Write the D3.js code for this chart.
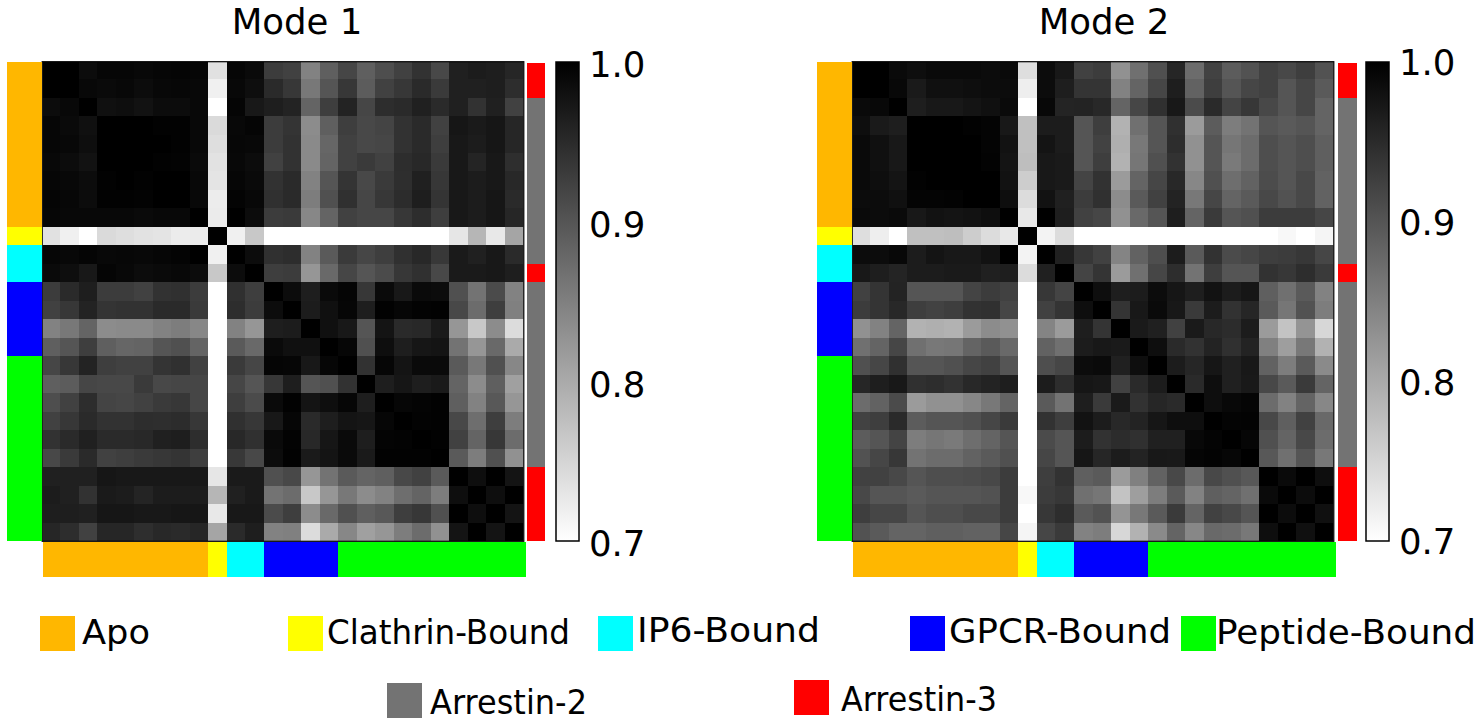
<!DOCTYPE html>
<html><head><meta charset="utf-8">
<style>html,body{margin:0;padding:0;background:#fff}svg{display:block}text{font-family:"DejaVu Sans",sans-serif;fill:#000}</style>
<script src="https://cdn.jsdelivr.net/npm/d3@7"></script></head><body>
<svg id="c" width="1484" height="724"></svg>
<script>
const stateNames=["Apo","Clathrin-Bound","IP6-Bound","GPCR-Bound","Peptide-Bound"];
const stateColors=["#ffb700","#ffff00","#00ffff","#0000ff","#00ff00"];
const stateCounts=[9,1,2,4,10];
const isoNames=["Arrestin-2","Arrestin-3"];
const isoColors=["#737373","#ff0000"];
const isoRuns=[["Arrestin-3",2],["Arrestin-2",9],["Arrestin-3",1],["Arrestin-2",10],["Arrestin-3",4]];
const colorTicks=[0.7,0.8,0.9,1.0];
// Lower triangles of the symmetric correlation matrices, in thousandths
const mode1=[
[1000],
[1000,1000],
[986,991,1000],
[993,988,981,1000],
[993,991,984,1000,1000],
[991,986,979,1000,1000,1000],
[993,991,986,998,1000,998,1000],
[994,992,986,998,998,996,1000,1000],
[993,991,991,991,991,988,991,991,1000],
[735,718,690,744,739,734,732,722,724,1000],
[993,991,994,991,992,991,993,995,1000,718,1000],
[988,984,972,994,991,986,988,991,986,765,986,1000],
[929,951,965,929,929,924,941,944,929,690,944,927,1000],
[924,935,959,939,941,941,951,951,932,690,947,929,986,1000],
[847,859,882,835,838,838,847,853,841,690,847,824,965,967,1000],
[888,900,927,888,880,882,900,906,882,690,894,876,988,981,981,1000],
[918,935,959,927,924,924,939,944,924,690,932,918,994,993,972,993,1000],
[888,892,918,915,915,932,915,918,918,690,918,900,935,965,900,906,941,1000],
[908,924,947,920,918,924,932,935,918,690,927,912,988,998,976,984,993,965,1000],
[924,935,951,941,941,947,946,948,935,690,944,935,972,993,951,965,976,974,993,1000],
[941,951,962,951,951,953,962,965,947,690,953,944,988,996,953,974,988,965,995,996,1000],
[915,932,951,924,927,932,935,939,927,690,934,915,986,998,969,976,988,969,998,998,998,1000],
[962,962,962,974,972,972,972,972,972,729,969,969,906,915,824,865,894,882,888,915,924,894,1000],
[967,962,941,969,967,958,967,967,967,786,962,969,865,873,765,824,859,835,847,871,882,853,984,1000],
[965,965,962,974,974,972,972,974,974,727,972,972,912,927,835,876,906,888,896,927,935,906,1000,984,1000],
[955,947,924,955,955,946,953,951,955,806,951,965,847,849,741,800,841,812,824,853,873,829,976,1000,976,1000]
];
const mode2=[
[1000],
[1000,1000],
[988,991,1000],
[984,969,965,1000],
[988,981,972,1000,1000],
[988,981,972,1000,1000,1000],
[988,984,976,998,1000,1000,1000],
[986,986,981,995,995,996,1000,1000],
[988,986,988,972,979,976,979,984,1000],
[739,720,690,774,774,777,759,741,727,1000],
[986,986,991,967,976,972,972,979,1000,714,1000],
[972,965,958,967,967,969,969,962,965,741,962,1000],
[924,939,959,900,900,900,920,929,924,690,935,920,1000],
[929,939,953,927,922,927,941,944,918,690,924,939,984,1000],
[829,847,882,791,794,791,818,835,829,690,845,818,965,939,1000],
[868,882,918,868,859,861,882,894,876,690,885,868,967,972,969,1000],
[906,918,944,900,900,906,918,924,900,690,908,918,986,988,962,984,1000],
[955,965,972,944,947,941,953,959,965,690,967,947,974,972,924,951,967,1000],
[873,885,912,818,829,829,841,859,882,690,894,865,965,932,969,941,955,951,1000],
[922,927,951,892,900,900,906,918,932,690,941,927,979,967,953,959,974,984,984,1000],
[892,900,920,853,861,857,871,882,900,690,912,900,967,941,948,944,962,962,991,995,1000],
[904,918,935,865,873,873,885,894,906,690,918,900,974,955,967,959,972,971,994,996,993,1000],
[924,924,915,900,908,908,911,915,929,690,927,941,888,894,818,849,885,915,873,915,906,896,1000],
[915,900,900,894,900,900,900,904,929,708,929,935,868,861,771,814,853,894,847,888,882,868,988,1000],
[927,918,918,900,908,908,915,915,929,690,935,947,894,904,826,859,894,932,882,924,915,900,1000,986,1000],
[904,894,882,882,888,888,885,885,918,712,918,932,847,853,747,791,838,882,841,876,873,859,984,1000,981,1000]
];

const svg=d3.select("#c");
const n=mode1.length, idx=d3.range(n);
const gray=d3.scaleLinear().domain([0.7,1]).range(["#ffffff","#000000"]).clamp(true);
const stateColor=d3.scaleOrdinal(stateNames,stateColors);
const isoColor=d3.scaleOrdinal(isoNames,isoColors);

function cumulate(runs){let s=0;return runs.map(([k,c])=>{const o={k,a:s,b:s+c};s+=c;return o;});}
const stateRuns=cumulate(stateNames.map((s,i)=>[s,stateCounts[i]]));
const isoBlocks=cumulate(isoRuns);
const defs=svg.append("defs");
const L=42.5,T=62,R=523.5,B=541;

function panel(title,tri,ox,opt){
  const g=svg.append("g").attr("class","panel").attr("transform",`translate(${ox},0)`);
  const x=d3.scaleLinear().domain([0,n]).range([41.5,R]);
  const y=d3.scaleLinear().domain([0,n]).range([60.6,B]);
  const clipId="clip"+ox;
  defs.append("clipPath").attr("id",clipId).append("rect").attr("x",L).attr("y",T).attr("width",R-L).attr("height",B-T);
  const cells=[];
  idx.forEach(i=>idx.forEach(j=>cells.push({i,j,v:(i>=j?tri[i][j]:tri[j][i])/1000})));
  g.append("g").attr("clip-path",`url(#${clipId})`).selectAll("rect").data(cells).join("rect")
    .attr("x",d=>x(d.j)).attr("y",d=>y(d.i))
    .attr("width",d=>x(d.j+1)-x(d.j)).attr("height",d=>y(d.i+1)-y(d.i))
    .attr("fill",d=>gray(d.v)).attr("shape-rendering","crispEdges");
  g.append("rect").attr("x",L-.3).attr("y",T-.3).attr("width",R-L+.6).attr("height",B-T+.6)
    .attr("fill","none").attr("stroke","#000").attr("stroke-width",1.2);
  // left state strip
  g.append("g").selectAll("rect").data(stateRuns).join("rect")
    .attr("x",6.5).attr("width",35).attr("y",d=>Math.max(T,y(d.a))).attr("height",d=>y(d.b)-Math.max(T,y(d.a)))
    .attr("fill",d=>stateColor(d.k)).attr("shape-rendering","crispEdges");
  // bottom state strip
  g.append("g").selectAll("rect").data(stateRuns).join("rect")
    .attr("y",542).attr("height",35).attr("x",d=>Math.max(43,x(d.a))).attr("width",d=>(d.b===n?525.7:x(d.b))-Math.max(43,x(d.a)))
    .attr("fill",d=>stateColor(d.k)).attr("shape-rendering","crispEdges");
  // right isoform strip
  g.append("g").selectAll("rect").data(isoBlocks).join("rect")
    .attr("x",opt.isoX).attr("width",opt.isoW).attr("y",d=>Math.max(T+1,y(d.a))).attr("height",d=>y(d.b)-Math.max(T+1,y(d.a)))
    .attr("fill",d=>isoColor(d.k)).attr("shape-rendering","crispEdges");
  // colour bar
  const gid="grad"+ox;
  const cb=d3.scaleLinear().domain([0.7,1]).range([B,T]);
  const grad=defs.append("linearGradient").attr("id",gid).attr("x1",0).attr("y1",1).attr("x2",0).attr("y2",0);
  grad.selectAll("stop").data([0.7,1]).join("stop").attr("offset",d=>(d-0.7)/0.3).attr("stop-color",d=>gray(d));
  g.append("rect").attr("x",556).attr("y",T).attr("width",23).attr("height",B-T)
    .attr("fill",`url(#${gid})`).attr("stroke","#000").attr("stroke-width",1.5);
  const ax=g.append("g").attr("transform","translate(579,0)")
    .call(d3.axisRight(cb).tickValues(colorTicks).tickFormat(d3.format(".1f")).tickSize(0).tickPadding(10));
  ax.select(".domain").remove();
  ax.selectAll("text").attr("font-size",35.5).attr("font-family",'"DejaVu Sans"').attr("dy",opt.tickDy).attr("fill","#000");
  g.append("text").attr("x",opt.titleX).attr("y",34).attr("text-anchor","middle").attr("font-size",35.5).text(title);
}
panel("Mode 1",mode1,0,{isoX:527,isoW:18,tickDy:"0.42em",titleX:297});
panel("Mode 2",mode2,810,{isoX:528,isoW:18.5,tickDy:"0.36em",titleX:294});

// legend
const legendItems=[
 {name:"Apo",sx:40,sy:616,tx:82,ty:644,w:68},
 {name:"Clathrin-Bound",sx:288,sy:616,tx:327,ty:644,w:243},
 {name:"IP6-Bound",sx:598,sy:616,tx:637,ty:642,w:183},
 {name:"GPCR-Bound",sx:910,sy:616,tx:949,ty:643,w:222},
 {name:"Peptide-Bound",sx:1181,sy:616,tx:1216,ty:644,w:260},
 {name:"Arrestin-2",sx:387,sy:683,tx:430,ty:714,w:157},
 {name:"Arrestin-3",sx:794,sy:680,tx:841,ty:711,w:156}
];
const lc=k=>stateNames.includes(k)?stateColor(k):isoColor(k);
const lg=svg.append("g");
lg.selectAll("rect").data(legendItems).join("rect")
  .attr("x",d=>d.sx).attr("y",d=>d.sy).attr("width",35).attr("height",35).attr("fill",d=>lc(d.name));
lg.selectAll("text").data(legendItems).join("text")
  .attr("x",d=>d.tx).attr("y",d=>d.ty).attr("font-size",34)
  .attr("textLength",d=>d.w).attr("lengthAdjust","spacingAndGlyphs").text(d=>d.name);
</script></body></html>
